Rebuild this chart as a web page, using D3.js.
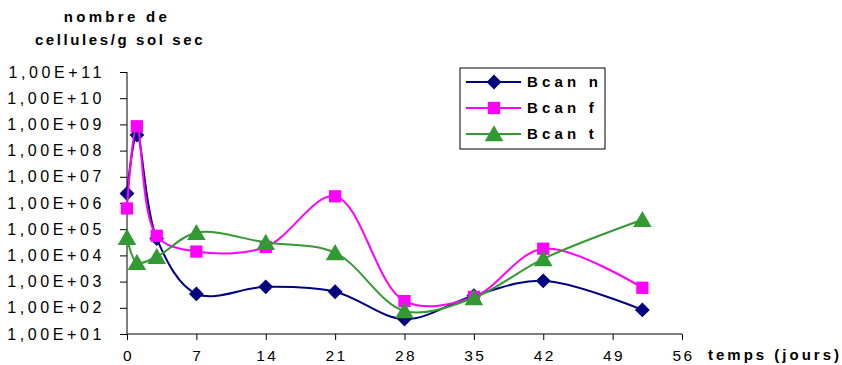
<!DOCTYPE html>
<html>
<head>
<meta charset="utf-8">
<script src="https://cdn.jsdelivr.net/npm/d3@7"></script>
<style>
  body { margin: 0; background: #fff; }
  text { font-family: Arial, "Liberation Sans", sans-serif; }
</style>
</head>
<body>
<div id="mainDiv"></div>
<script>
'use strict';

// jours de mesure
var days = [0, 1, 3, 7, 14, 21, 28, 35, 42, 52];

// valeurs (cellules/g sol sec)
var bcanN = [2.3e6, 3.9e8, 4.4e4, 340, 630, 410, 37, 290, 1070, 83];
var bcanF = [6.2e5, 8.5e8, 5.6e4, 1.4e4, 2.1e4, 1.8e6, 180, 260, 1.8e4, 580];
var bcanT = [4.8e4, 5.3e3, 8.9e3, 7.4e4, 3.1e4, 1.26e4, 76, 240, 7.4e3, 2.3e5];

var seriesNames = ['Bcan n', 'Bcan f', 'Bcan t'];
var xTicks = [0, 7, 14, 21, 28, 35, 42, 49, 56];
var yTicks = [1e1, 1e2, 1e3, 1e4, 1e5, 1e6, 1e7, 1e8, 1e9, 1e10, 1e11];

var chart = {};
chart.w = 842;
chart.h = 365;
chart.left = 127;
chart.right = 682;
chart.top = 72;
chart.bottom = 334;
chart.colors = ['#000080', '#ff00ff', '#339933'];
chart.sizes = [110, 150, 150];

// losange carré (comme Excel), le d3.symbolDiamond est trop étroit
var squareDiamond = {
  draw: function(context, size) {
    var r = Math.sqrt(size / 2);
    context.moveTo(0, -r);
    context.lineTo(r, 0);
    context.lineTo(0, r);
    context.lineTo(-r, 0);
    context.closePath();
  }
};
chart.shapes = [squareDiamond, d3.symbolSquare, d3.symbolTriangle];

chart.styleText = function(sel, size, bold, spacing) {
  sel.style('font-size', size + 'px')
    .style('font-weight', bold ? 'bold' : 'normal')
    .style('letter-spacing', spacing + 'px')
    .attr('fill', '#000');
};

chart.run = function() {
  var svg = d3.select('#mainDiv').append('svg')
    .attr('width', chart.w)
    .attr('height', chart.h);

  var x = d3.scaleLinear().domain([0, 56]).range([chart.left, chart.right]);
  var y = d3.scaleLog().domain([1e1, 1e11]).range([chart.bottom, chart.top]);

  // axe y
  var yAxis = d3.axisLeft(y).tickValues(yTicks).tickSize(7).tickPadding(15)
    .tickFormat(function(d) {
      var e = Math.round(Math.log10(d));
      return '1,00E+' + (e < 10 ? '0' + e : e);
    });
  var gy = svg.append('g')
    .attr('transform', 'translate(' + chart.left + ',0)')
    .call(yAxis);
  gy.select('.domain').attr('d', 'M0,' + chart.top + 'V' + chart.bottom);
  chart.styleText(gy.selectAll('text'), 16, false, 3.6);

  // axe x
  var xAxis = d3.axisBottom(x).tickValues(xTicks).tickSize(6).tickPadding(10);
  var gx = svg.append('g')
    .attr('transform', 'translate(0,' + chart.bottom + ')')
    .call(xAxis);
  gx.select('.domain').attr('d', 'M' + chart.left + ',0H' + chart.right);
  chart.styleText(gx.selectAll('text'), 15.5, false, 2.5);
  gx.selectAll('text').attr('dx', 1);

  var line = d3.line()
    .x(function(d) { return x(d[0]); })
    .y(function(d) { return y(d[1]); })
    .curve(d3.curveCatmullRom.alpha(0.5));

  [bcanN, bcanF, bcanT].forEach(function(vals, i) {
    var pts = days.map(function(d, j) { return [d, vals[j]]; });
    svg.append('path')
      .datum(pts)
      .attr('fill', 'none')
      .attr('stroke', chart.colors[i])
      .attr('stroke-width', 2)
      .attr('d', line);
    svg.selectAll('.m' + i)
      .data(pts)
      .enter()
      .append('path')
      .attr('class', 'm' + i)
      .attr('transform', function(d) {
        var dy = i === 2 ? 2 : 0;
        return 'translate(' + x(d[0]) + ',' + (y(d[1]) + dy) + ')';
      })
      .attr('d', d3.symbol().type(chart.shapes[i]).size(chart.sizes[i]))
      .attr('fill', chart.colors[i]);
  });

  // légende
  var lg = svg.append('g').attr('transform', 'translate(460,68)');
  lg.append('rect')
    .attr('width', 145).attr('height', 81)
    .attr('fill', '#fff').attr('stroke', '#000').attr('stroke-width', 1);
  seriesNames.forEach(function(name, i) {
    var cy = 14 + i * 26;
    lg.append('line')
      .attr('x1', 6).attr('x2', 61).attr('y1', cy).attr('y2', cy)
      .attr('stroke', chart.colors[i]).attr('stroke-width', 2);
    lg.append('path')
      .attr('transform', 'translate(34,' + (cy + (i === 2 ? 2 : 0)) + ')')
      .attr('d', d3.symbol().type(chart.shapes[i]).size(chart.sizes[i]))
      .attr('fill', chart.colors[i]);
    var t = lg.append('text')
      .attr('x', 67).attr('y', cy + 5)
      .text(name);
    chart.styleText(t, 15, true, 4.2);
  });

  // titres
  var t1 = svg.append('text')
    .attr('x', 117).attr('y', 22)
    .attr('text-anchor', 'middle')
    .text('nombre de');
  chart.styleText(t1, 15, true, 3.3);
  var t2 = svg.append('text')
    .attr('x', 120).attr('y', 45)
    .attr('text-anchor', 'middle')
    .text('cellules/g sol sec');
  chart.styleText(t2, 15, true, 2.6);
  var t3 = svg.append('text')
    .attr('x', 708).attr('y', 360)
    .text('temps (jours)');
  chart.styleText(t3, 15, true, 3);
};

window.onload = chart.run;
</script>
</body>
</html>
